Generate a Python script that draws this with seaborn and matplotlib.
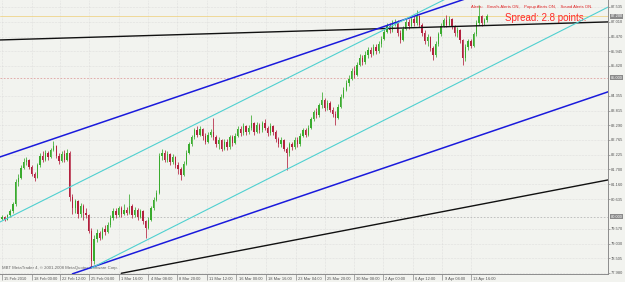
import numpy as np
import matplotlib
matplotlib.use("Agg")
import matplotlib.pyplot as plt
import matplotlib.transforms as mtransforms
import seaborn as sns

# H4 candles (price)
first_open = 79.92
closes = [79.98, 79.90, 80.05, 80.20, 80.45, 81.25, 81.40, 81.75, 81.95, 82.05,
          81.80, 81.55, 81.40, 81.85, 82.20, 82.05, 82.30, 82.15, 82.40, 82.55,
          82.20, 82.00, 82.25, 82.05, 82.30, 80.70, 80.30, 80.55, 80.10, 80.40,
          80.15, 80.05, 79.50, 78.40, 79.20, 79.40, 79.25, 79.55, 79.45, 79.70,
          79.95, 80.20, 80.05, 80.30, 80.10, 80.25, 80.15, 80.40, 80.05, 80.25,
          80.00, 80.20, 79.85, 79.60, 79.90, 80.30, 80.60, 80.85, 82.20, 82.30,
          82.05, 82.25, 81.95, 82.15, 81.85, 81.70, 81.50, 81.90, 82.30, 82.60,
          82.85, 83.10, 82.95, 83.15, 82.90, 82.70, 82.95, 83.05, 82.85, 82.60,
          82.75, 82.45, 82.70, 82.50, 82.85, 82.65, 82.90, 83.15, 83.00, 83.25,
          83.05, 83.20, 83.35, 83.05, 83.30, 83.10, 83.35, 83.20, 83.00, 83.25,
          83.05, 82.80, 82.60, 82.75, 82.45, 82.30, 82.60, 82.50, 82.75, 82.60,
          82.90, 83.10, 82.95, 83.20, 83.50, 83.75, 83.65, 84.00, 84.20, 83.90,
          84.10, 83.85, 83.70, 83.55, 83.95, 84.30, 84.55, 84.80, 84.95, 85.25,
          85.10, 85.45, 85.70, 85.55, 85.80, 86.00, 85.85, 86.10, 85.95, 86.20,
          86.40, 86.65, 86.85, 86.70, 86.95, 87.00, 86.60, 86.35, 86.75, 87.00,
          86.85, 87.10, 86.95, 87.20, 86.90, 86.60, 86.30, 86.45, 86.05, 85.80,
          86.20, 86.55, 86.85, 87.05, 86.90, 87.10, 86.85, 86.60, 86.70, 86.35,
          85.70, 86.10, 86.30, 86.15, 86.55, 86.95, 87.20, 86.95, 87.05, 87.20]
highs = [80.05, 80.02, 80.10, 80.28, 80.52, 81.35, 81.55, 81.85, 82.10, 82.15,
         82.08, 81.85, 81.62, 81.92, 82.30, 82.35, 82.40, 82.38, 82.48, 82.73,
         82.58, 82.30, 82.35, 82.40, 82.42, 82.35, 80.80, 80.65, 80.60, 80.50,
         80.45, 80.30, 80.10, 79.60, 79.35, 79.55, 79.50, 79.65, 79.70, 79.80,
         80.05, 80.30, 80.30, 80.40, 80.38, 80.45, 80.35, 80.80, 80.45, 80.35,
         80.30, 80.28, 80.25, 79.90, 80.00, 80.40, 80.70, 80.95, 82.30, 82.45,
         82.40, 82.38, 82.30, 82.25, 82.20, 81.95, 81.80, 82.00, 82.40, 82.70,
         82.95, 83.20, 83.25, 83.25, 83.20, 83.00, 83.05, 83.15, 83.56, 82.95,
         82.85, 82.80, 82.80, 82.78, 82.95, 82.95, 83.00, 83.25, 83.25, 83.35,
         83.30, 83.30, 83.66, 83.40, 83.40, 83.35, 83.45, 83.50, 83.25, 83.35,
         83.30, 83.10, 82.85, 82.85, 82.80, 82.50, 82.70, 82.70, 82.85, 82.85,
         83.00, 83.20, 83.20, 83.30, 83.60, 83.85, 83.90, 84.10, 84.49, 84.25,
         84.20, 84.15, 83.95, 83.80, 84.05, 84.40, 84.65, 84.90, 85.10, 85.35,
         85.40, 85.55, 85.85, 85.80, 85.95, 86.10, 86.10, 86.20, 86.20, 86.30,
         86.50, 86.75, 86.95, 86.95, 87.05, 87.10, 87.05, 86.70, 86.85, 87.10,
         87.10, 87.20, 87.20, 87.44, 87.25, 86.95, 86.70, 86.55, 86.50, 86.15,
         86.30, 86.65, 86.95, 87.15, 87.26, 87.20, 87.15, 86.90, 86.80, 86.75,
         86.40, 86.20, 86.40, 86.40, 86.65, 87.05, 87.62, 87.25, 87.15, 87.30]
lows = [79.88, 79.85, 79.88, 80.00, 80.15, 80.40, 81.10, 81.35, 81.70, 81.85,
        81.70, 81.45, 81.30, 81.38, 81.80, 81.95, 82.00, 82.05, 82.10, 82.35,
        82.10, 81.90, 81.95, 81.98, 82.00, 80.55, 80.10, 80.15, 79.95, 80.00,
        79.90, 79.95, 79.40, 78.16, 78.30, 79.10, 79.15, 79.20, 79.35, 79.40,
        79.65, 79.90, 79.95, 80.00, 80.00, 80.05, 80.05, 80.10, 79.95, 80.00,
        79.90, 79.95, 79.75, 79.24, 79.55, 79.85, 80.25, 80.55, 80.80, 82.05,
        81.95, 81.98, 81.85, 81.90, 81.75, 81.55, 81.33, 81.45, 81.85, 82.25,
        82.55, 82.80, 82.85, 82.90, 82.75, 82.60, 82.65, 82.85, 82.75, 82.50,
        82.45, 82.35, 82.40, 82.40, 82.45, 82.55, 82.60, 82.85, 82.90, 82.95,
        82.95, 82.98, 83.10, 82.95, 83.00, 83.00, 83.05, 83.10, 82.90, 82.95,
        82.95, 82.70, 82.50, 82.50, 82.35, 81.68, 82.20, 82.40, 82.45, 82.50,
        82.55, 82.85, 82.85, 82.90, 83.15, 83.45, 83.55, 83.60, 83.90, 83.80,
        83.85, 83.75, 83.60, 83.30, 83.50, 83.90, 84.25, 84.50, 84.70, 84.90,
        85.00, 85.05, 85.40, 85.45, 85.50, 85.70, 85.75, 85.80, 85.85, 85.90,
        86.10, 86.35, 86.60, 86.60, 86.65, 86.85, 86.50, 86.25, 86.30, 86.70,
        86.75, 86.80, 86.85, 86.90, 86.80, 86.50, 86.20, 86.15, 85.95, 85.64,
        85.75, 86.15, 86.50, 86.80, 86.80, 86.85, 86.75, 86.50, 86.45, 86.25,
        85.46, 85.60, 86.00, 86.05, 86.10, 86.50, 86.90, 86.85, 86.90, 87.00]

# trend lines drawn on the chart: (bar, price) pairs
black_top = ([-1, 224], [86.35, 87.00])
black_bottom = ([44, 224], [77.97, 81.33])
blue_top = ([-1, 224], [82.14, 89.58])
blue_bottom = ([26, 224], [77.95, 84.50])
cyan_top = ([-1, 224], [79.80, 90.76])
cyan_bottom = ([33, 224], [78.16, 87.55])

bid = 87.20
hlines_dotted = [85.00, 80.00]

price_ticks = [87.535, 87.010, 86.470, 85.945, 85.420, 84.355, 83.815, 83.290,
               82.765, 82.225, 81.700, 81.160, 80.635, 79.570, 79.030, 78.505, 77.980]
date_pos = [0, 11, 21.5, 32, 43, 54, 64.5, 75.5, 86.5, 97.5, 108.5, 119, 130,
            140.5, 151.5, 162.5, 173]
date_labels = ["15 Feb 2010", "18 Feb 00:00", "22 Feb 12:00", "25 Feb 04:00",
               "1 Mar 16:00", "4 Mar 08:00", "8 Mar 20:00", "11 Mar 12:00",
               "16 Mar 00:00", "18 Mar 16:00", "23 Mar 04:00", "25 Mar 20:00",
               "30 Mar 08:00", "2 Apr 00:00", "6 Apr 12:00", "9 Apr 04:00",
               "13 Apr 16:00"]

bg = "#f2f3ef"
sns.set_theme(style="white", rc={"axes.facecolor": bg, "figure.facecolor": bg})
plt.rcParams["font.family"] = ["Liberation Sans", "DejaVu Sans"]

fig = plt.figure(figsize=(6.25, 2.82), dpi=100)
ax = fig.add_axes([0, 1 - 274 / 282, 608 / 625, 274 / 282])

opens = np.array([first_open] + closes[:-1])
c = np.array(closes)
x = np.arange(len(c))
up = c >= opens
col = np.where(up, "#3aab2e", "#b3203e")

ax.vlines(x, lows, highs, colors=col, lw=0.55, zorder=3)
ax.bar(x, c - opens, bottom=opens, width=0.5, color=col, lw=0, zorder=3)

# horizontal objects
ax.axhline(bid, color="#efd48a", lw=0.6, zorder=2)
ax.axhline(hlines_dotted[0], color="#e0a0a0", lw=0.6, ls=(0, (2, 2)), zorder=2)
ax.axhline(hlines_dotted[1], color="#b8b8b8", lw=0.6, ls=(0, (2, 2)), zorder=2)

for (lx, ly), color, w in [(black_top, "#111111", 1.0), (black_bottom, "#111111", 1.0),
                           (blue_top, "#1a1adc", 1.1), (blue_bottom, "#1a1adc", 1.1),
                           (cyan_top, "#4fd0d0", 0.8), (cyan_bottom, "#4fd0d0", 0.8)]:
    sns.lineplot(x=lx, y=ly, color=color, lw=w, ax=ax, zorder=4)

ax.set_xlim(-0.74, 223.6)
ax.set_ylim(77.944, 87.786)

ax.set_xticks(date_pos)
ax.set_xticklabels([])
ax.set_yticks(price_ticks)
ax.yaxis.tick_right()
ax.set_yticklabels([f"{v:.3f}" for v in price_ticks], fontsize=2.9, color="#555555")
ax.tick_params(axis="y", length=1.5, width=0.5, color="#888888", pad=0.6, right=True)
ax.tick_params(axis="x", length=4, width=0.5, color="#888888", bottom=True, direction="out")
ax.grid(True, ls=":", color="#cfcfcf", lw=0.4)
for s in ["left", "top"]:
    ax.spines[s].set_visible(False)
for s in ["right", "bottom"]:
    ax.spines[s].set_color("#8c8c8c")
    ax.spines[s].set_linewidth(0.7)
ax.set_xlabel("")
ax.set_ylabel("")

trans = mtransforms.blended_transform_factory(ax.transData, ax.transAxes)
for p, lab in zip(date_pos, date_labels):
    ax.text(p + 0.8, -0.018, lab, transform=trans, fontsize=2.9, color="#555555",
            ha="left", va="center", clip_on=False)

# price boxes on the right scale
ytr = mtransforms.blended_transform_factory(ax.transAxes, ax.transData)
for v in [bid] + hlines_dotted:
    ax.text(1.004, v, f"{v:.3f}", transform=ytr, fontsize=2.9, color="white",
            ha="left", va="center", clip_on=False,
            bbox=dict(boxstyle="square,pad=0.15", fc="#8a8a8a", ec="none"))

ax.text(0.775, 0.975, "Alerts:    Emails Alerts ON,    Popup Alerts ON,    Sound Alerts ON.",
        transform=ax.transAxes, fontsize=3.0, color="#e02020", ha="left", va="center")
ax.text(0.83, 0.935, "Spread: 2.8 points.", transform=ax.transAxes, fontsize=7,
        color="#ff2a2a", ha="left", va="center")
ax.text(0.004, 0.022, "MBT MetaTrader 4, \u00a9 2001-2008 MetaQuotes Software Corp.",
        transform=ax.transAxes, fontsize=3.1, color="#666666", ha="left", va="center")

fig.savefig("out.png", dpi=100, facecolor=bg)
